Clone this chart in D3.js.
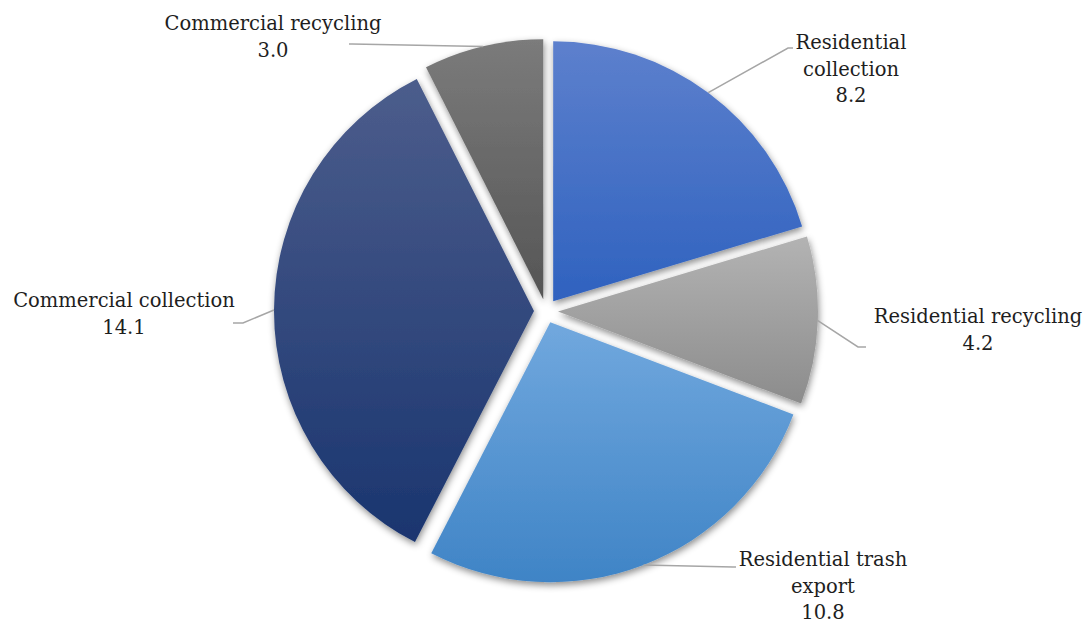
<!DOCTYPE html>
<html>
<head>
<meta charset="utf-8">
<script src="https://cdn.jsdelivr.net/npm/d3@7/dist/d3.min.js"></script>
<style>
  html, body { margin: 0; padding: 0; background: #fff; }
  svg { display: block; }
  .lbl { font-family: "DejaVu Serif", "Liberation Serif", serif; fill: #1e1e1e; }
</style>
</head>
<body>
<svg id="chart" width="1089" height="625"></svg>
<script>
// Cost breakdown by service line
const categories = [
  "Residential collection",
  "Residential recycling",
  "Residential trash export",
  "Commercial collection",
  "Commercial recycling"
];
const values = [8.2, 4.2, 10.8, 14.1, 3.0];
const valueLabels = ["8.2", "4.2", "10.8", "14.1", "3.0"];
// how each category name is wrapped in its label
const labelLines = [
  ["Residential", "collection"],
  ["Residential recycling"],
  ["Residential trash", "export"],
  ["Commercial collection"],
  ["Commercial recycling"]
];
// vertical gradient stops (top, bottom) per slice
const fillTop    = ["#5d80cd", "#b3b3b3", "#71a8de", "#4c5d8c", "#7b7b7b"];
const fillBottom = ["#2f62bf", "#8c8c8c", "#3f84c6", "#1a356f", "#555555"];

// label placement: text centre x, first-line centre y, leader elbow, leader end
const labelLayout = [
  { x: 851, y: 42,  elbow: [788, 48],  end: [793, 48] },
  { x: 978, y: 316, elbow: [858, 347], end: [866, 347] },
  { x: 823, y: 559, elbow: [733, 567], end: [736, 567] },
  { x: 124, y: 300, elbow: [243, 323], end: [233, 323] },
  { x: 273, y: 23,  elbow: [352, 44],  end: [349, 44] }
];

const W = 1089, H = 625;
const cx = 546, cy = 311;
const R = 260;
const explode = 12;
const fontSize = 19.5;
const lineH = 26.5;

const svg = d3.select("#chart");
const defs = svg.append("defs");

const shadow = defs.append("filter")
  .attr("id", "shadow")
  .attr("x", "-20%").attr("y", "-20%")
  .attr("width", "140%").attr("height", "140%");
shadow.append("feDropShadow")
  .attr("dx", 1).attr("dy", 3)
  .attr("stdDeviation", 3.5)
  .attr("flood-color", "#000")
  .attr("flood-opacity", 0.45);

categories.forEach((c, i) => {
  const g = defs.append("linearGradient")
    .attr("id", "grad" + i)
    .attr("x1", 0).attr("y1", 0).attr("x2", 0).attr("y2", 1);
  g.append("stop").attr("offset", "0%").attr("stop-color", fillTop[i]);
  g.append("stop").attr("offset", "100%").attr("stop-color", fillBottom[i]);
});

const pie = d3.pie().sort(null).value(d => d)
  .startAngle(0).endAngle(2 * Math.PI);
const arcs = pie(values);
const arc = d3.arc().innerRadius(0).outerRadius(R);

const root = svg.append("g").attr("transform", `translate(${cx},${cy})`);

function offsetOf(a) {
  const m = (a.startAngle + a.endAngle) / 2;
  return [Math.sin(m) * explode, -Math.cos(m) * explode];
}

root.selectAll("path.slice")
  .data(arcs)
  .join("path")
  .attr("class", "slice")
  .attr("transform", d => { const o = offsetOf(d); return `translate(${o[0]},${o[1]})`; })
  .attr("d", arc)
  .attr("fill", (d, i) => `url(#grad${i})`)
  .attr("filter", "url(#shadow)");

// leader lines from the outer arc at each slice's mid-angle
const line = d3.line();
arcs.forEach((a, i) => {
  const m = (a.startAngle + a.endAngle) / 2;
  const o = offsetOf(a);
  const p0 = [cx + o[0] + Math.sin(m) * R, cy + o[1] - Math.cos(m) * R];
  const L = labelLayout[i];
  svg.append("path")
    .attr("d", line([p0, L.elbow, L.end]))
    .attr("fill", "none")
    .attr("stroke", "#a6a6a6")
    .attr("stroke-width", 1.5);
});

// data labels: category name lines followed by the value
arcs.forEach((a, i) => {
  const L = labelLayout[i];
  const lines = labelLines[i].concat([valueLabels[i]]);
  const t = svg.append("text")
    .attr("class", "lbl")
    .attr("text-anchor", "middle")
    .attr("font-size", fontSize);
  lines.forEach((s, k) => {
    t.append("tspan")
      .attr("x", L.x)
      .attr("y", L.y + k * lineH)
      .attr("dy", "0.36em")
      .text(s);
  });
});
</script>
</body>
</html>
